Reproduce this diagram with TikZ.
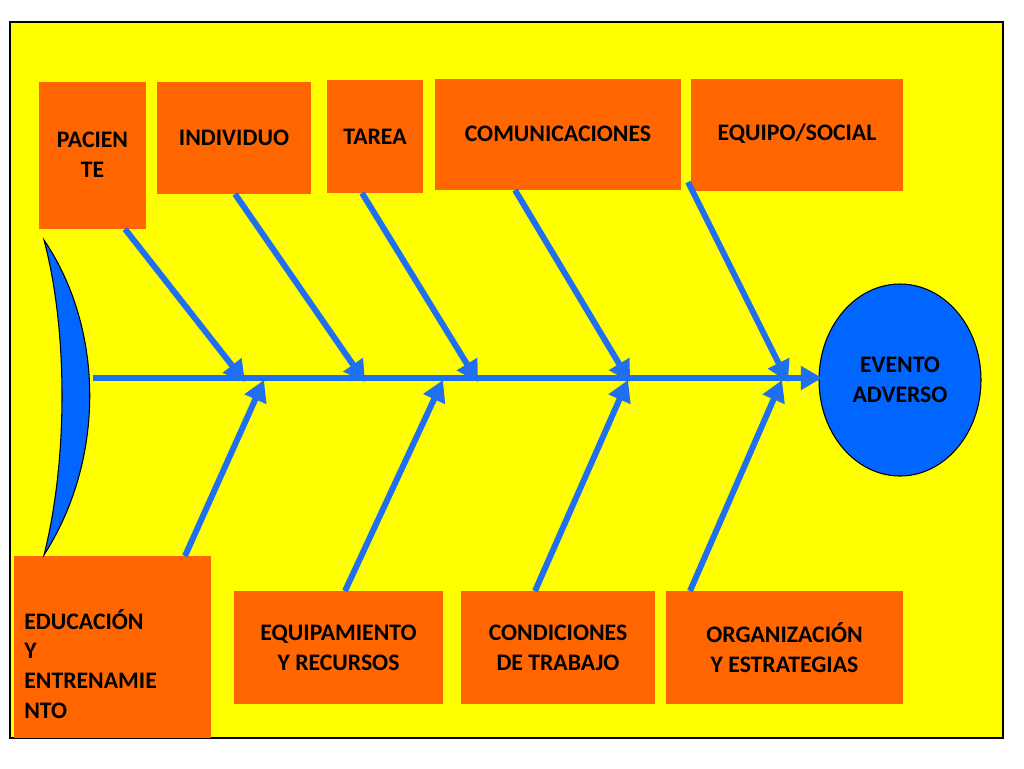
\documentclass[tikz,border=0pt]{standalone}
\usepackage{fontspec}
\setmainfont{Carlito}
\usetikzlibrary{arrows.meta}
\definecolor{yel}{HTML}{FFFF00}
\definecolor{org}{HTML}{FF6600}
\definecolor{bone}{HTML}{1F6FF0}
\definecolor{fish}{HTML}{0066FF}
\begin{document}
\begin{tikzpicture}[x=0.02cm,y=-0.02cm,
  box/.style={fill=org,draw=none,inner sep=0,font=\bfseries\fontsize{13.5}{17}\selectfont,align=center},
  bonel/.style={draw=bone,line width=3.4pt,-{Triangle[length=12pt,width=13pt]}}]
\useasboundingbox (0,0) rectangle (1024,768);
\fill[white] (0,0) rectangle (1024,768);
\draw[fill=yel,line width=0.6pt] (10,22) rectangle (1003,738);
% boxes
\node[box,minimum width=107*0.02cm,minimum height=147*0.02cm] (pac) at (92.5,155.5) {};
\node[box] at (92.5,155) {PACIEN\\TE};
\node[box,minimum width=154*0.02cm,minimum height=112*0.02cm] (ind) at (234,138) {INDIVIDUO};
\node[box,minimum width=96*0.02cm,minimum height=113*0.02cm] (tar) at (375,136.5) {TAREA};
\node[box,minimum width=246*0.02cm,minimum height=111*0.02cm] (com) at (558,134.5) {};
\node[box] at (558,134) {COMUNICACIONES};
\node[box,minimum width=212*0.02cm,minimum height=112*0.02cm] (equ) at (797,135) {};
\node[box] at (797,134) {EQUIPO/SOCIAL};
\node[box,minimum width=197*0.02cm,minimum height=182*0.02cm] (edu) at (112.5,647) {};
\node[box,align=left,anchor=west] at (24,664) {EDUCACIÓN\\Y\\ENTRENAMIE\\NTO};
\node[box,minimum width=209*0.02cm,minimum height=113*0.02cm] (eqr) at (338.5,647.5) {EQUIPAMIENTO\\Y RECURSOS};
\node[box,minimum width=194*0.02cm,minimum height=113*0.02cm] (cond) at (558,647.5) {CONDICIONES\\DE TRABAJO};
\node[box,minimum width=237*0.02cm,minimum height=113*0.02cm] (org) at (784.5,647.5) {ORGANIZACIÓN\\Y ESTRATEGIAS};
% head
\draw[fill=fish,line width=0.6pt] (900,380) ellipse [x radius=81, y radius=96];
\node[font=\bfseries\fontsize{13.5}{17}\selectfont,align=center] (ev) at (900,380) {EVENTO\\ADVERSO};
% tail
\draw[fill=fish,line width=0.6pt] (44,240) .. controls (105,330) and (105,460) .. (44,555) .. controls (68,460) and (68,330) .. (44,240) -- cycle;
% spine
\coordinate (s0) at (93,378);
\coordinate (s1) at (822,378);
\draw[bonel] (s0) -- (s1);
% top bones
\coordinate (t1) at (125,229); \coordinate (e1) at (245,382);
\coordinate (t2) at (235,194); \coordinate (e2) at (365,382);
\coordinate (t3) at (362,193); \coordinate (e3) at (478,382);
\coordinate (t4) at (515,190); \coordinate (e4) at (630,382);
\coordinate (t5) at (688,182); \coordinate (e5) at (788,382);
\foreach \i in {1,...,5} \draw[bonel] (t\i) -- (e\i);
% bottom bones
\coordinate (b1) at (185,556); \coordinate (f1) at (264,380);
\coordinate (b2) at (345,591); \coordinate (f2) at (443,380);
\coordinate (b3) at (535,591); \coordinate (f3) at (628,380);
\coordinate (b4) at (690,591); \coordinate (f4) at (782,380);
\foreach \i in {1,...,4} \draw[bonel] (b\i) -- (f\i);
\end{tikzpicture}
\end{document}
